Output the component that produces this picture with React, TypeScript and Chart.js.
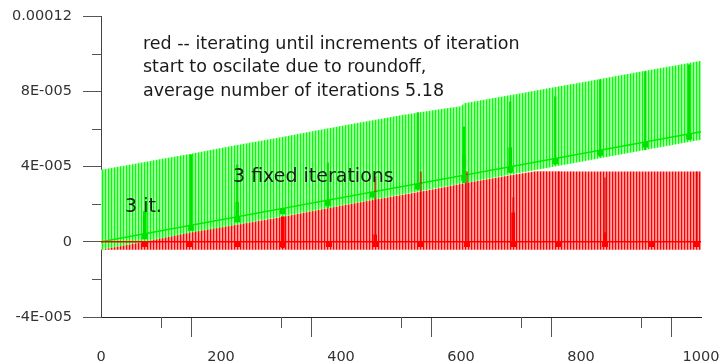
import React, { useEffect, useRef } from 'react';
import { Chart, registerables } from 'chart.js';

Chart.register(...registerables);

// ---- axis ticks ----
const xTickValues = [0, 200, 400, 600, 800, 1000];
const xTickLabels = ['0', '200', '400', '600', '800', '1000'];
const yTickValues = [-4e-5, 0, 4e-5, 8e-5, 1.2e-4];
const yTickLabels = ['-4E-005', '0', '4E-005', '8E-005', '0.00012'];

// ---- green: 3 fixed iterations (band of oscillation) ----
const greenTopX = [0, 50, 100, 150, 200, 250, 300, 350, 400, 450, 500, 550, 600, 605, 650, 700, 750, 800, 850, 900, 950, 1000];
const greenTopY = [3.83e-5, 4.1e-5, 4.4e-5, 4.68e-5, 4.98e-5, 5.27e-5, 5.55e-5, 5.86e-5, 6.15e-5, 6.44e-5, 6.72e-5, 6.98e-5, 7.2e-5, 7.36e-5, 7.62e-5, 7.9e-5, 8.18e-5, 8.47e-5, 8.76e-5, 9.05e-5, 9.33e-5, 9.62e-5];
const greenLowX = [0, 1000];
const greenLowY = [-0.43e-5, 5.42e-5];
const greenLineX = [0, 1000];
const greenLineY = [0, 5.85e-5];

// ---- red: iterating until increments oscillate ----
const redTopX = [0, 73, 148, 227, 303, 380, 455, 532, 610, 687, 725, 800, 900, 1000];
const redTopY = [-0.43e-5, 0.0, 0.48e-5, 0.9e-5, 1.33e-5, 1.8e-5, 2.23e-5, 2.66e-5, 3.14e-5, 3.56e-5, 3.75e-5, 3.74e-5, 3.73e-5, 3.74e-5];
const redLowX = [0, 1000];
const redLowY = [-0.43e-5, -0.43e-5];
const redLineX = [0, 1000];
const redLineY = [0, 0];

// ---- sampled points with their spread ----
const greenMarkX = [73, 150, 227, 303, 378, 453, 528, 605, 682, 757, 832, 907, 980];
const greenMarkY = [0.28e-5, 0.73e-5, 1.18e-5, 1.62e-5, 2.06e-5, 2.5e-5, 2.94e-5, 3.39e-5, 3.84e-5, 4.28e-5, 4.72e-5, 5.16e-5, 5.58e-5];
const greenSpikeX = [73, 150, 227, 378, 528, 605, 682, 757, 832, 907, 980];
const greenSpikeLo = [0.21e-5, 0.64e-5, 1.17e-5, 1.81e-5, 2.76e-5, 3.14e-5, 3.67e-5, 4.09e-5, 4.52e-5, 4.89e-5, 5.42e-5];
const greenSpikeHi = [1.6e-5, 4.62e-5, 4.1e-5, 4.2e-5, 6.86e-5, 6.11e-5, 7.44e-5, 7.71e-5, 8.61e-5, 9.04e-5, 9.41e-5];
const greenThickX = [73, 227, 605, 682];
const greenThickLo = [0.21e-5, 1.17e-5, 3.14e-5, 3.67e-5];
const greenThickHi = [1.6e-5, 2.1e-5, 4.6e-5, 5.0e-5];

const redMarkX = [73, 148, 227, 303, 380, 457, 533, 610, 687, 763, 840, 917, 993];
const redMarkY = [-0.12e-5, -0.12e-5, -0.12e-5, -0.12e-5, -0.12e-5, -0.12e-5, -0.12e-5, -0.12e-5, -0.12e-5, -0.12e-5, -0.12e-5, -0.12e-5, -0.12e-5];
const redSpikeX = [457, 533, 610, 687, 763, 840, 993];
const redSpikeLo = [0, 0, 0, 0, 0, 0, 0];
const redSpikeHi = [3.45e-5, 3.72e-5, 3.72e-5, 2.34e-5, 3.72e-5, 3.4e-5, 3.72e-5];
const redThickX = [303, 457, 687, 840];
const redThickLo = [-0.32e-5, -0.16e-5, -0.05e-5, -0.16e-5];
const redThickHi = [1.33e-5, 0.37e-5, 1.54e-5, 0.48e-5];

const FONT = "'DejaVu Sans', Verdana, sans-serif";

const pts = (xs: number[], ys: number[]) => xs.map((x, i) => ({ x, y: ys[i] }));
const ranges = (xs: number[], lo: number[], hi: number[]) => xs.map((x, i) => ({ x, y: [lo[i], hi[i]] }));

const labelFor = (v: number, values: number[], labels: string[], tol: number) => {
  const i = values.findIndex((t) => Math.abs(t - v) < tol);
  return i >= 0 ? labels[i] : '';
};
const xLabel = (v: number) => labelFor(v, xTickValues, xTickLabels, 1e-6);
const yLabel = (v: number) => labelFor(v, yTickValues, yTickLabels, 1e-9);

// vertical stripe fill imitating densely packed lines
function stripes(ctx: CanvasRenderingContext2D, cols: string[]) {
  const tile = document.createElement('canvas');
  tile.width = cols.length;
  tile.height = 1;
  const t = tile.getContext('2d')!;
  cols.forEach((c, i) => {
    t.fillStyle = c;
    t.fillRect(i, 0, 1, 1);
  });
  return ctx.createPattern(tile, 'repeat')!;
}

const minorTicks = {
  id: 'minorTicks',
  afterDraw(chart: any) {
    const { ctx, scales } = chart;
    const x = scales.x;
    const y = scales.y;
    ctx.save();
    ctx.strokeStyle = '#555';
    ctx.lineWidth = 1;
    ctx.beginPath();
    for (const t of y.ticks) {
      if (yLabel(t.value) !== '') continue;
      const py = Math.round(y.getPixelForValue(t.value)) + 0.5;
      ctx.moveTo(y.right - 9, py);
      ctx.lineTo(y.right, py);
    }
    for (const t of x.ticks) {
      if (xLabel(t.value) !== '') continue;
      const px = Math.round(x.getPixelForValue(t.value)) + 0.5;
      ctx.moveTo(px, x.top);
      ctx.lineTo(px, x.top + 11);
    }
    ctx.stroke();
    ctx.restore();
  },
};

const notes = [
  { text: 'red -- iterating until increments of iteration', x: 70, y: 10.25e-5, size: 17.5 },
  { text: 'start to oscilate due to roundoff,', x: 70, y: 9.0e-5, size: 17.5 },
  { text: 'average number of iterations 5.18', x: 70, y: 7.75e-5, size: 17.5 },
  { text: '3 fixed iterations', x: 220, y: 3.18e-5, size: 19 },
  { text: '3 it.', x: 40, y: 1.6e-5, size: 19 },
];

const notesPlugin = {
  id: 'notes',
  afterDatasetsDraw(chart: any) {
    const { ctx, scales } = chart;
    ctx.save();
    ctx.fillStyle = '#1a1a1a';
    ctx.textAlign = 'left';
    ctx.textBaseline = 'alphabetic';
    for (const n of notes) {
      ctx.font = `${n.size}px ${FONT}`;
      ctx.fillText(n.text, scales.x.getPixelForValue(n.x), scales.y.getPixelForValue(n.y));
    }
    ctx.restore();
  },
};

export default function App() {
  const ref = useRef<HTMLCanvasElement | null>(null);

  useEffect(() => {
    const canvas = ref.current!;
    const ctx = canvas.getContext('2d')!;
    const greenFill = stripes(ctx, ['rgb(0,255,0)', 'rgb(140,255,140)', 'rgb(165,255,165)']);
    const redFill = stripes(ctx, ['rgb(255,0,0)', 'rgb(255,130,130)', 'rgb(255,160,160)']);

    const band = { borderWidth: 0, pointRadius: 0, tension: 0 };
    const majorTick = (c: any) => (c.tick && c.tick.label !== '' ? '#555' : 'rgba(0,0,0,0)');

    const chart = new Chart(ctx, {
      type: 'line',
      data: {
        datasets: [
          { ...band, data: pts(greenLowX, greenLowY), fill: false, order: 20 },
          { ...band, data: pts(greenTopX, greenTopY), fill: '-1', backgroundColor: greenFill, order: 19 },
          { ...band, data: pts(redLowX, redLowY), fill: false, order: 18 },
          { ...band, data: pts(redTopX, redTopY), fill: '-1', backgroundColor: redFill, order: 17 },
          { data: pts(greenLineX, greenLineY), borderColor: 'rgb(0,235,0)', borderWidth: 1.6, pointRadius: 0, fill: false, order: 16 },
          { data: pts(redLineX, redLineY), borderColor: 'rgb(255,0,0)', borderWidth: 1.6, pointRadius: 0, fill: false, order: 15 },
          { type: 'bar', data: ranges(greenSpikeX, greenSpikeLo, greenSpikeHi) as any, backgroundColor: 'rgb(0,225,0)', barThickness: 1.5, grouped: false, borderWidth: 0, order: 14 },
          { type: 'bar', data: ranges(greenThickX, greenThickLo, greenThickHi) as any, backgroundColor: 'rgb(0,225,0)', barThickness: 3, grouped: false, borderWidth: 0, order: 13 },
          { type: 'bar', data: ranges(redSpikeX, redSpikeLo, redSpikeHi) as any, backgroundColor: 'rgba(210,0,0,0.6)', barThickness: 1.5, grouped: false, borderWidth: 0, order: 12 },
          { type: 'bar', data: ranges(redThickX, redThickLo, redThickHi) as any, backgroundColor: 'rgb(255,0,0)', barThickness: 3, grouped: false, borderWidth: 0, order: 11 },
          { data: pts(greenMarkX, greenMarkY), showLine: false, pointStyle: 'rect', pointRadius: 4, pointBackgroundColor: 'rgb(0,225,0)', pointBorderWidth: 0, order: 10 },
          { data: pts(redMarkX, redMarkY), showLine: false, pointStyle: 'rect', pointRadius: 4.2, pointBackgroundColor: 'rgb(255,0,0)', pointBorderWidth: 0, order: 9 },
        ] as any,
      },
      options: {
        responsive: false,
        animation: false,
        devicePixelRatio: 1,
        events: [],
        layout: { padding: { left: 0, right: 23, top: 16, bottom: 0 } },
        plugins: { legend: { display: false }, tooltip: { enabled: false } },
        scales: {
          x: {
            type: 'linear',
            min: 0,
            max: 1000,
            offset: false,
            afterFit: (s: any) => {
              s.height = 47;
              s.paddingLeft = 0;
              s.paddingRight = 0;
            },
            grid: { drawOnChartArea: false, drawTicks: true, tickLength: 20, tickColor: majorTick, tickWidth: 1 },
            border: { display: true, color: '#222', width: 1 },
            ticks: {
              stepSize: 100,
              autoSkip: false,
              maxRotation: 0,
              padding: 12,
              color: '#333',
              font: { family: FONT, size: 14.5 },
              callback: (v: any) => xLabel(Number(v)),
            },
          },
          y: {
            type: 'linear',
            min: -4e-5,
            max: 1.2e-4,
            afterFit: (s: any) => {
              s.width = 101;
              s.paddingTop = 0;
              s.paddingBottom = 0;
            },
            grid: { drawOnChartArea: false, drawTicks: true, tickLength: 18, tickColor: majorTick, tickWidth: 1 },
            border: { display: true, color: '#444', width: 1 },
            ticks: {
              stepSize: 2e-5,
              autoSkip: false,
              padding: 11,
              color: '#333',
              font: { family: FONT, size: 14.5 },
              callback: (v: any) => yLabel(Number(v)),
            },
          },
        },
      } as any,
      plugins: [minorTicks, notesPlugin],
    });

    return () => chart.destroy();
  }, []);

  return (
    <div style={{ position: 'fixed', left: 0, top: 0, width: 724, height: 364, background: '#fff' }}>
      <canvas ref={ref} width={724} height={364} style={{ display: 'block' }} />
    </div>
  );
}
